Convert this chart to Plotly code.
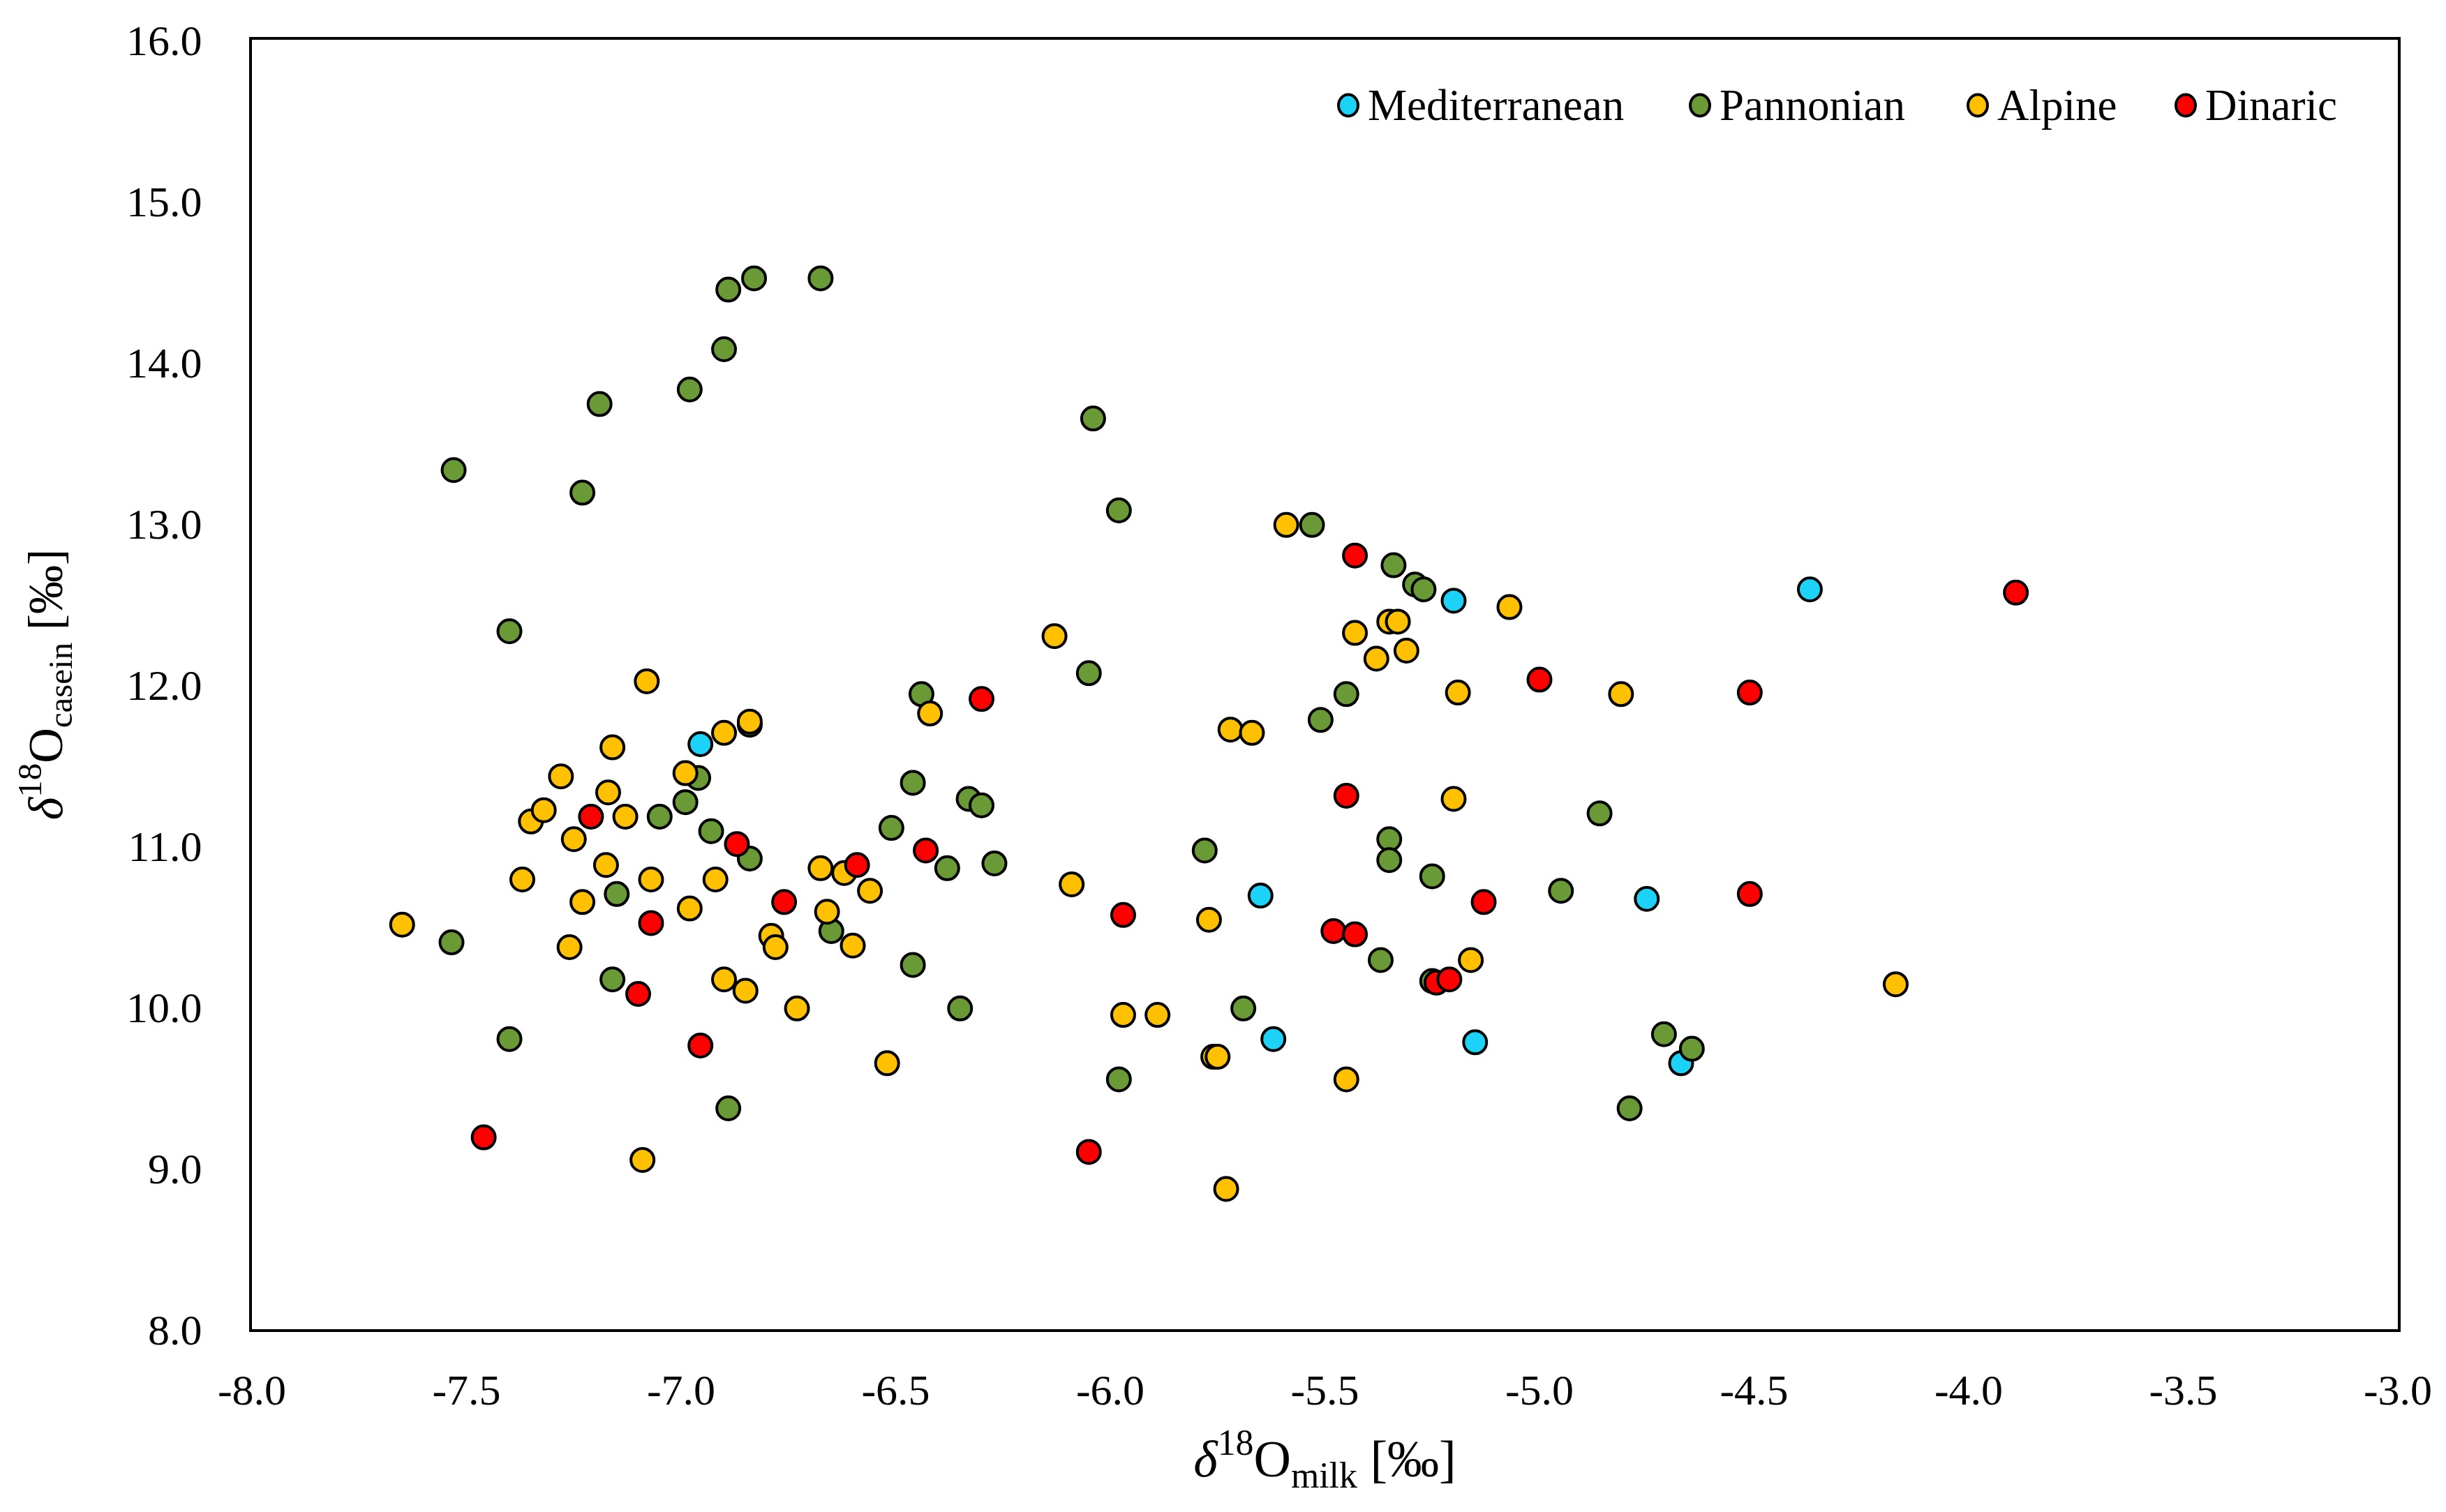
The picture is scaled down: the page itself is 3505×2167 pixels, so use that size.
import plotly.graph_objects as go

# Oxygen isotope ratios: milk water (x) vs casein (y), by geographic region.
MED_X = [-6.955, -5.20, -4.37, -5.65, -4.75, -5.62, -5.15, -4.67]
MED_Y = [11.63, 12.52, 12.59, 10.69, 10.67, 9.80, 9.78, 9.65]

PAN_X = [-7.53, -7.19, -7.23, -6.98, -6.90, -6.89, -6.83, -6.675, -7.40, -6.04,
         -5.98, -5.53, -5.34, -5.29, -5.27, -6.05, -6.44, -5.45, -5.51, -6.84,
         -6.96, -6.46, -6.99, -6.33, -6.30, -7.05, -6.93, -6.51, -5.35, -4.86,
         -6.84, -6.38, -6.27, -5.78, -5.35, -5.25, -4.95, -7.15, -6.65, -7.535,
         -6.46, -7.16, -5.37, -5.25, -6.35, -5.69, -7.40, -4.71, -4.645, -5.98,
         -6.89, -4.79]
PAN_Y = [13.33, 13.74, 13.19, 13.83, 14.08, 14.45, 14.52, 14.52, 12.33, 13.65,
         13.08, 12.99, 12.74, 12.62, 12.59, 12.07, 11.94, 11.94, 11.78, 11.75,
         11.42, 11.39, 11.27, 11.29, 11.25, 11.18, 11.09, 11.11, 11.04, 11.20,
         10.92, 10.86, 10.89, 10.97, 10.91, 10.81, 10.72, 10.70, 10.47, 10.40,
         10.26, 10.17, 10.29, 10.16, 9.99, 9.99, 9.80, 9.83, 9.74, 9.55,
         9.37, 9.37]

ALP_X = [-7.65, -7.37, -7.35, -7.32, -7.28, -7.25, -7.26, -7.23, -7.175, -7.17,
         -7.16, -7.13, -7.08, -7.07, -7.09, -6.99, -6.98, -6.92, -6.90, -6.84,
         -6.90, -6.85, -6.79, -6.78, -6.73, -6.675, -6.66, -6.62, -6.56, -6.60,
         -6.52, -6.42, -6.13, -6.09, -5.97, -5.89, -5.77, -5.76, -5.75, -5.73,
         -5.72, -5.67, -5.59, -5.43, -5.38, -5.35, -5.33, -5.31, -5.19, -5.20,
         -5.16, -5.07, -4.81, -5.45, -4.17]
ALP_Y = [10.51, 10.79, 11.15, 11.22, 11.43, 11.04, 10.37, 10.65, 10.88, 11.33,
         11.61, 11.18, 12.02, 10.79, 9.05, 11.45, 10.61, 10.79, 11.70, 11.77,
         10.17, 10.10, 10.44, 10.37, 9.99, 10.86, 10.59, 10.83, 10.72, 10.38,
         9.65, 11.82, 12.30, 10.76, 9.95, 9.95, 10.54, 9.69, 9.69, 8.87,
         11.72, 11.70, 12.99, 12.32, 12.16, 12.39, 12.39, 12.21, 11.95, 11.29,
         10.29, 12.48, 11.94, 9.55, 10.14]

DIN_X = [-7.46, -7.21, -7.10, -7.07, -6.955, -6.87, -6.76, -6.59, -6.43, -6.30,
         -6.05, -5.97, -5.45, -5.43, -5.48, -5.43, -5.24, -5.21, -5.13, -5.00,
         -4.51, -4.51, -3.89]
DIN_Y = [9.19, 11.18, 10.08, 10.52, 9.76, 11.01, 10.65, 10.88, 10.97, 11.91,
         9.10, 10.57, 11.31, 12.80, 10.47, 10.45, 10.15, 10.17, 10.65, 12.03,
         11.95, 10.70, 12.57]

SERIES = [
    ("Mediterranean", MED_X, MED_Y, "#1CD3F7"),
    ("Pannonian", PAN_X, PAN_Y, "#6A9A35"),
    ("Alpine", ALP_X, ALP_Y, "#FFC000"),
    ("Dinaric", DIN_X, DIN_Y, "#FF0000"),
]

X_TICKS = [-8.0, -7.5, -7.0, -6.5, -6.0, -5.5, -5.0, -4.5, -4.0, -3.5, -3.0]
Y_TICKS = [8.0, 9.0, 10.0, 11.0, 12.0, 13.0, 14.0, 15.0, 16.0]

FONT = "Liberation Serif, Times New Roman, serif"

W, H = 3505, 2167
ML, MR, MT, MB = 353, 77, 49, 270
PW, PH = W - ML - MR, H - MT - MB

fig = go.Figure()
for name, xs, ys, color in SERIES:
    fig.add_trace(go.Scatter(
        x=xs, y=ys, mode="markers", name=name, showlegend=False,
        marker=dict(size=33, color=color, line=dict(color="black", width=4)),
    ))

# hand-built legend so the symbols can be as big as in the original
LEG_MARK_X = [1924, 2428, 2826, 3124]   # pixel centres of the legend circles
LEG_Y = 143
R = 14
for (name, _, _, color), mx in zip(SERIES, LEG_MARK_X):
    cx = (mx - ML) / PW
    cy = 1 - (LEG_Y - MT) / PH
    fig.add_shape(type="circle", xref="paper", yref="paper",
                  x0=cx - R / PW, x1=cx + R / PW, y0=cy - 1.1 * R / PH, y1=cy + 1.1 * R / PH,
                  fillcolor=color, line=dict(color="black", width=4))
    fig.add_annotation(x=cx + 26 / PW, y=cy, xref="paper", yref="paper",
                       text=name, showarrow=False, xanchor="left", yanchor="middle",
                       font=dict(family=FONT, size=63, color="black"))

axis_common = dict(
    showgrid=False, zeroline=False, showline=True, mirror=True,
    linecolor="black", linewidth=4, ticks="",
    tickfont=dict(family=FONT, size=62, color="black"),
)

fig.update_xaxes(range=[-8, -3], tickvals=X_TICKS,
                 ticktext=[f"{v:.1f}" for v in X_TICKS], ticklabelstandoff=30,
                 title=dict(text="<i>δ</i><sup>18</sup>O<sub>milk</sub> [‰]",
                            font=dict(family=FONT, size=74, color="black"),
                            standoff=40),
                 **axis_common)
fig.update_yaxes(range=[8, 16], tickvals=Y_TICKS,
                 ticktext=[f"{v:.1f}" for v in Y_TICKS], ticklabelstandoff=55,
                 title=dict(text="<i>δ</i><sup>18</sup>O<sub>casein</sub> [‰]",
                            font=dict(family=FONT, size=70, color="black"),
                            standoff=70),
                 **axis_common)

fig.update_layout(
    width=W, height=H,
    margin=dict(l=ML, r=MR, t=MT, b=MB),
    plot_bgcolor="white", paper_bgcolor="white",
    font=dict(family=FONT, color="black"),
    showlegend=False,
)

fig.write_html("out.html")
